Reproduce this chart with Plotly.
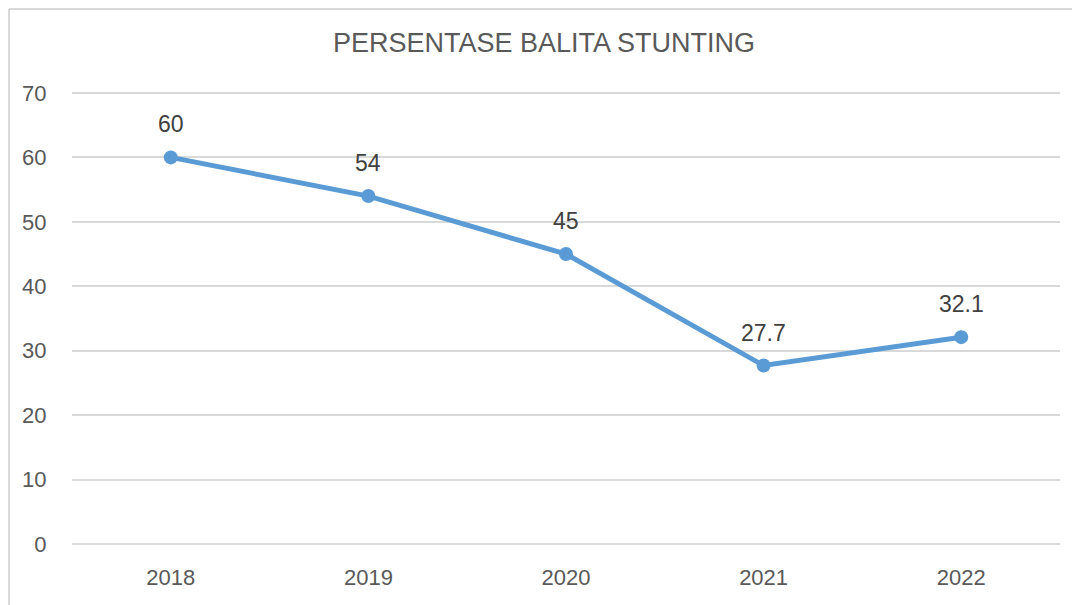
import plotly.graph_objects as go

years = ["2018", "2019", "2020", "2021", "2022"]
values = [60, 54, 45, 27.7, 32.1]
labels = ["60", "54", "45", "27.7", "32.1"]
y_ticks = [0, 10, 20, 30, 40, 50, 60, 70]

FONT = "Liberation Sans, Arial, sans-serif"
GRAY = "#595959"
GRID = "#D9D9D9"

# page body has an 8px margin, so the figure is sized to fit the window
W, H = 1072, 597
L, R, T, B = 64, 20, 84, 61

fig = go.Figure()
fig.add_trace(go.Scatter(
    x=years, y=values, mode="lines+markers",
    line=dict(color="#5B9BD5", width=5),
    marker=dict(color="#5B9BD5", size=14),
    cliponaxis=False, showlegend=False,
))

for i, (yv, lab) in enumerate(zip(values, labels)):
    fig.add_annotation(x=i, y=yv, xref="x", yref="y", text=lab, showarrow=False,
                       yshift=33, font=dict(family=FONT, size=23, color="#404040"))

# top gridline (plotly drops the grid line that sits on the plot edge)
fig.add_shape(type="line", xref="paper", yref="y", x0=0, x1=1,
              y0=y_ticks[-1], y1=y_ticks[-1], layer="below",
              line=dict(color=GRID, width=2))

fig.update_layout(
    width=W, height=H,
    margin=dict(l=L, r=R, t=T, b=B),
    paper_bgcolor="white", plot_bgcolor="white",
    title=dict(text="PERSENTASE BALITA STUNTING", x=0.5, xanchor="center",
               y=1 - 35 / H, yanchor="middle",
               font=dict(family=FONT, size=27, color=GRAY)),
    xaxis=dict(type="category", range=[-0.5, 4.5], showgrid=False,
               showline=False, ticks="outside", ticklen=14, tickcolor="white",
               tickfont=dict(family=FONT, size=22, color=GRAY)),
    yaxis=dict(range=[0, 70.15], tickvals=y_ticks, showgrid=True,
               gridcolor=GRID, gridwidth=2, zeroline=True,
               zerolinecolor=GRID, zerolinewidth=2,
               ticks="outside", ticklen=20, tickcolor="white",
               tickfont=dict(family=FONT, size=22, color=GRAY)),
)

fig.add_shape(type="line", xref="paper", yref="paper",
              x0=-(L - 1) / (W - L - R), x1=1 + R / (W - L - R),
              y0=1 + (T - 1) / (H - T - B), y1=1 + (T - 1) / (H - T - B),
              line=dict(color=GRID, width=2))
fig.add_shape(type="line", xref="paper", yref="paper",
              x0=-(L - 1) / (W - L - R), x1=-(L - 1) / (W - L - R),
              y0=-B / (H - T - B), y1=1 + (T - 1) / (H - T - B),
              line=dict(color=GRID, width=2))

fig.write_html("out.html")
